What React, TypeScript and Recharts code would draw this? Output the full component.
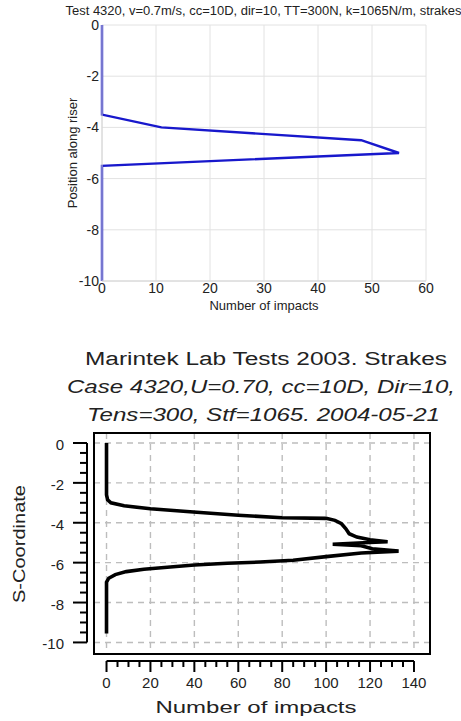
import React from 'react';
import {
  LineChart,
  Line,
  XAxis,
  YAxis,
  CartesianGrid,
  ReferenceArea,
  ReferenceLine,
  Label,
} from 'recharts';

const FONT = '"Liberation Sans", Arial, sans-serif';

// upper plot: Test 4320 impact count along the riser
const TOP_IMPACTS = [0, 0, 11, 48, 55, 0, 0];
const TOP_POSITION = [0, -3.5, -4, -4.5, -5, -5.5, -10];
const TOP_X_TICKS = [0, 10, 20, 30, 40, 50, 60];
const TOP_Y_TICKS = [-10, -8, -6, -4, -2, 0];

// lower plot: Marintek lab tests, traced curve
const LAB_IMPACTS = [
  0, 0, 0.5, 2, 8, 20, 38, 60, 80, 100, 104, 107, 109, 110.5, 114, 120, 128, 117,
  103, 116, 121, 133, 116, 100, 85, 70, 55, 40, 29, 17, 9, 4, 1, 0, 0,
];
const LAB_S = [
  0, -2.6, -2.85, -3.0, -3.15, -3.3, -3.45, -3.62, -3.75, -3.78, -3.88, -4.05, -4.3,
  -4.55, -4.72, -4.85, -4.95, -5.0, -5.08, -5.15, -5.3, -5.42, -5.52, -5.7, -5.88,
  -5.97, -6.03, -6.12, -6.22, -6.33, -6.45, -6.6, -6.78, -6.98, -9.55,
];
const LAB_X_MAJOR = [0, 20, 40, 60, 80, 100, 120, 140];
const LAB_X_MINOR = [
  0, 5, 10, 15, 20, 25, 30, 35, 40, 45, 50, 55, 60, 65, 70, 75, 80, 85, 90, 95, 100,
  105, 110, 115, 120, 125, 130, 135, 140,
];
const LAB_Y_MAJOR = [-10, -8, -6, -4, -2, 0];
const LAB_Y_MINOR = [
  -10, -9.5, -9, -8.5, -8, -7.5, -7, -6.5, -6, -5.5, -5, -4.5, -4, -3.5, -3, -2.5, -2,
  -1.5, -1, -0.5, 0,
];
const LAB_X_DOMAIN = [-5.7, 147.3];
const LAB_Y_DOMAIN = [-10.58, 0.5];
// detached axes sit a little outside the framed box
const LAB_X_AXIS_AT = -10.93;
const LAB_Y_AXIS_AT = -8.9;

const topData = TOP_IMPACTS.map((impacts, i) => ({ impacts, position: TOP_POSITION[i] }));
const labData = LAB_IMPACTS.map((impacts, i) => ({ impacts, s: LAB_S[i] }));

const LabXTick = (props: any) => {
  const { x, y, payload } = props;
  const major = payload.value % 20 === 0;
  return (
    <g>
      <line x1={x} x2={x} y1={y + 7} y2={y + (major ? 18 : 13)} stroke="#000" strokeWidth={2} />
      {major && (
        <text x={x} y={y + 34} textAnchor="middle" fontSize={15} fontFamily={FONT} fill="#222">
          {payload.value}
        </text>
      )}
    </g>
  );
};

const LabYTick = (props: any) => {
  const { x, y, payload } = props;
  const major = payload.value % 2 === 0;
  return (
    <g>
      <line x1={x - 7} x2={x - (major ? 21 : 14)} y1={y} y2={y} stroke="#000" strokeWidth={2} />
      {major && (
        <text x={x - 30} y={y + 7} textAnchor="end" fontSize={15} fontFamily={FONT} fill="#222">
          {payload.value}
        </text>
      )}
    </g>
  );
};

const App = () => {
  return (
    <div style={{ position: 'absolute', left: 0, top: 0, width: 461, height: 721, background: '#fff' }}>
      <div style={{ position: 'absolute', left: 0, top: 0 }}>
        <LineChart width={461} height={320} data={topData} margin={{ top: 25, right: 35, left: 0, bottom: 0 }}>
          <CartesianGrid stroke="#e2e2e2" />
          <XAxis
            type="number"
            dataKey="impacts"
            domain={[0, 60]}
            ticks={TOP_X_TICKS}
            interval={0}
            height={39}
            tickSize={0}
            tickMargin={2}
            axisLine={{ stroke: '#d4d4d4' }}
            tick={{ fill: '#222', fontSize: 14, fontFamily: FONT }}
          >
            <Label
              content={({ viewBox }: any) => (
                <text
                  x={viewBox.x + viewBox.width / 2}
                  y={viewBox.y + 29}
                  textAnchor="middle"
                  fontSize={13}
                  fontFamily={FONT}
                  fill="#222"
                >
                  Number of impacts
                </text>
              )}
            />
          </XAxis>
          <YAxis
            type="number"
            domain={[-10, 0]}
            ticks={TOP_Y_TICKS}
            interval={0}
            width={102}
            tickSize={0}
            tickMargin={3}
            axisLine={{ stroke: '#d4d4d4' }}
            tick={{ fill: '#222', fontSize: 14, fontFamily: FONT }}
          >
            <Label
              content={({ viewBox }: any) => {
                const cx = viewBox.x + 77;
                const cy = viewBox.y + viewBox.height / 2;
                return (
                  <text
                    x={cx}
                    y={cy}
                    transform={`rotate(-90, ${cx}, ${cy})`}
                    textAnchor="middle"
                    fontSize={13}
                    fontFamily={FONT}
                    fill="#222"
                  >
                    Position along riser
                  </text>
                );
              }}
            />
          </YAxis>
          <Line
            dataKey="position"
            stroke="#1818cc"
            strokeWidth={2.4}
            dot={false}
            type="linear"
            isAnimationActive={false}
          />
        </LineChart>
      </div>

      <div style={{ position: 'absolute', left: 0, top: 320 }}>
        <LineChart width={461} height={401} data={labData} margin={{ top: 113, right: 31, left: 0, bottom: 0 }}>
          <CartesianGrid
            stroke="#bdbdbd"
            strokeWidth={1.4}
            strokeDasharray="6 5"
            verticalValues={LAB_X_MAJOR}
            horizontalValues={LAB_Y_MAJOR}
          />
          <ReferenceArea
            x1={LAB_X_DOMAIN[0]}
            x2={LAB_X_DOMAIN[1]}
            y1={LAB_Y_DOMAIN[0]}
            y2={LAB_Y_DOMAIN[1]}
            fill="none"
            stroke="#000"
            strokeWidth={2}
            ifOverflow="visible"
          />
          <ReferenceLine
            segment={[
              { x: 0, y: LAB_X_AXIS_AT },
              { x: 140, y: LAB_X_AXIS_AT },
            ]}
            stroke="#000"
            strokeWidth={2}
            ifOverflow="visible"
          />
          <ReferenceLine
            segment={[
              { x: LAB_Y_AXIS_AT, y: -10 },
              { x: LAB_Y_AXIS_AT, y: 0 },
            ]}
            stroke="#000"
            strokeWidth={2}
            ifOverflow="visible"
          />
          <XAxis
            type="number"
            dataKey="impacts"
            domain={LAB_X_DOMAIN}
            ticks={LAB_X_MINOR}
            interval={0}
            allowDataOverflow
            height={67}
            tickSize={0}
            tickMargin={0}
            axisLine={false}
            tickLine={false}
            tick={(p: any) => <LabXTick {...p} />}
          >
            <Label
              content={({ viewBox }: any) => (
                <text
                  x={viewBox.x + viewBox.width / 2 - 6}
                  y={viewBox.y + 59}
                  textAnchor="middle"
                  fontSize={16}
                  fontFamily={FONT}
                  fill="#222"
                  textLength={201}
                  lengthAdjust="spacingAndGlyphs"
                >
                  Number of impacts
                </text>
              )}
            />
          </XAxis>
          <YAxis
            type="number"
            domain={LAB_Y_DOMAIN}
            ticks={LAB_Y_MINOR}
            interval={0}
            allowDataOverflow
            width={94}
            tickSize={0}
            tickMargin={0}
            axisLine={false}
            tickLine={false}
            tick={(p: any) => <LabYTick {...p} />}
          >
            <Label
              content={({ viewBox }: any) => {
                const cx = viewBox.x + 25;
                const cy = 544 - 320;
                return (
                  <text
                    x={cx}
                    y={cy}
                    transform={`rotate(-90, ${cx}, ${cy})`}
                    textAnchor="middle"
                    fontSize={17}
                    fontFamily={FONT}
                    fill="#222"
                    textLength={118}
                    lengthAdjust="spacingAndGlyphs"
                  >
                    S-Coordinate
                  </text>
                );
              }}
            />
          </YAxis>
          <Line
            dataKey="s"
            stroke="#000"
            strokeWidth={3.6}
            dot={false}
            type="linear"
            isAnimationActive={false}
          />
        </LineChart>
      </div>

      <svg
        width={461}
        height={721}
        style={{ position: 'absolute', left: 0, top: 0, pointerEvents: 'none' }}
        fontFamily={FONT}
        fill="#222"
      >
        <text x={263.5} y={15} textAnchor="middle" fontSize={12} textLength={396} lengthAdjust="spacingAndGlyphs">
          Test 4320, v=0.7m/s, cc=10D, dir=10, TT=300N, k=1065N/m, strakes
        </text>
        <text x={266} y={365} textAnchor="middle" fontSize={18} textLength={362} lengthAdjust="spacingAndGlyphs">
          Marintek Lab Tests 2003. Strakes
        </text>
        <text
          x={261}
          y={393}
          textAnchor="middle"
          fontSize={18}
          fontStyle="italic"
          textLength={388}
          lengthAdjust="spacingAndGlyphs"
        >
          Case 4320,U=0.70, cc=10D, Dir=10,
        </text>
        <text
          x={263.5}
          y={421}
          textAnchor="middle"
          fontSize={18}
          fontStyle="italic"
          textLength={353}
          lengthAdjust="spacingAndGlyphs"
        >
          Tens=300, Stf=1065. 2004-05-21
        </text>
      </svg>
    </div>
  );
};

export default App;
